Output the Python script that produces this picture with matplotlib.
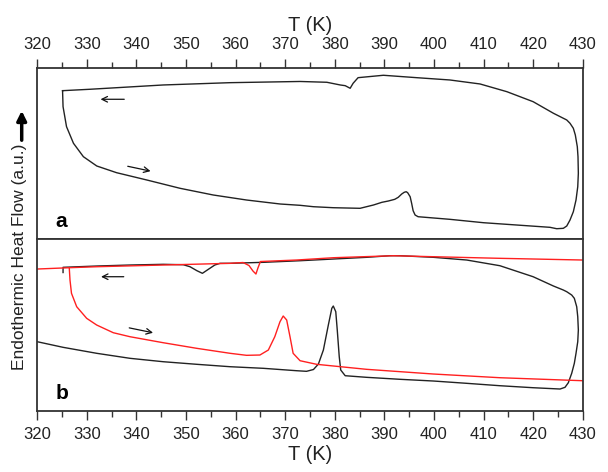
import matplotlib.pyplot as plt
import matplotlib as mpl
from matplotlib.ticker import MultipleLocator

mpl.rcParams['font.family'] = ['Liberation Sans', 'DejaVu Sans']

# panel a: one loop (heating bottom, cooling top)
T_a = [325.1, 325.2, 325.9, 327.3, 329.3, 332.0, 336.0, 342.1, 348.8, 355.5, 362.2, 369.0,
       373.0, 375.7, 379.7, 385.1, 386.4, 387.8, 389.5, 390.8, 392.1, 392.8, 393.5, 394.0,
       394.4, 394.7, 395.2, 395.5, 395.8, 396.2, 396.8, 403.2, 410.0, 416.7, 423.4, 424.76,
       426.09, 426.78, 427.44, 428.11, 428.65, 429.0, 429.12, 429.05, 428.91, 428.51, 428.11,
       427.44, 426.78, 424.1, 420.0, 414.7, 409.3, 403.2, 396.5,
       389.8, 384.7, 383.7, 383.1, 382.1, 381.1, 378.4, 373.0, 358.9, 345.4, 330.6, 325.1]
H_a = [14.83, 13.23, 11.23, 9.57, 8.23, 7.3, 6.63, 5.9, 5.07, 4.4, 3.9, 3.5,
       3.37, 3.23, 3.13, 3.07, 3.23, 3.4, 3.67, 3.8, 3.97, 4.17, 4.5, 4.67,
       4.73, 4.63, 4.23, 3.57, 2.83, 2.4, 2.23, 1.97, 1.63, 1.4, 1.17, 1.03,
       1.07, 1.3, 1.9, 2.73, 3.9, 5.23, 6.57, 8.23, 9.23, 10.4, 11.07,
       11.57, 11.9, 12.57, 13.73, 14.73, 15.5, 15.9, 16.13,
       16.37, 16.13, 15.57, 15.07, 15.33, 15.4, 15.67, 15.75, 15.63, 15.4, 14.97, 14.83]

# panel b, black run
T_b1 = [320.0, 325.2, 332.0, 338.7, 345.4, 352.2, 358.9, 365.6, 372.3, 374.3, 375.7, 376.7,
        377.7, 378.7, 379.4, 379.7, 380.2, 380.5, 380.9, 381.2, 382.1, 386.4, 393.2, 399.9,
        406.6, 413.3, 420.0, 425.43, 426.43, 427.1, 427.78, 428.31, 428.65, 429.0, 429.12,
        429.0, 428.79, 428.31, 427.78, 426.78, 426.09, 424.1,
        420.0, 413.3, 406.6, 399.9, 393.2, 391.1, 386.4, 379.7, 373.0, 365.6, 358.9, 356.85,
        355.8, 354.5, 353.3, 352.2, 350.8, 349.45, 345.4, 338.7, 332.0, 325.2, 325.2]
H_b1 = [6.93, 6.37, 5.77, 5.27, 4.93, 4.67, 4.43, 4.27, 4.03, 3.97, 4.15, 4.7,
        6.1, 8.6, 10.27, 10.5, 9.93, 8.1, 5.43, 4.1, 3.53, 3.37, 3.17, 3.0,
        2.77, 2.53, 2.33, 2.2, 2.37, 2.83, 3.77, 4.77, 5.77, 6.93, 8.1,
        9.43, 10.43, 11.27, 11.6, 11.93, 12.1, 12.5,
        13.43, 14.53, 15.1, 15.37, 15.53, 15.53, 15.37, 15.2, 15.03, 14.87, 14.77, 14.77,
        14.6, 14.17, 13.77, 14.03, 14.43, 14.63, 14.67, 14.6, 14.5, 14.37, 13.85]

# panel b, red run
T_b2 = [430.0, 413.3, 399.9, 391.8, 379.7, 372.3, 365.0, 364.5, 364.1, 363.5, 362.7, 361.5,
        358.9, 345.4, 332.0, 326.45, 326.6, 326.9, 327.95, 329.96, 331.98, 335.33, 338.7,
        345.4, 352.15, 358.9, 362.2, 364.9, 366.6, 367.9, 368.95, 369.6, 370.3, 370.97,
        371.6, 373.0, 376.35, 386.4, 399.9, 413.3, 430.0]
H_b2 = [15.1, 15.27, 15.43, 15.53, 15.33, 15.1, 14.95, 14.3, 13.7, 14.0, 14.55, 14.85,
        14.77, 14.6, 14.43, 14.33, 13.1, 11.77, 10.43, 9.27, 8.6, 7.83, 7.43,
        6.83, 6.27, 5.77, 5.57, 5.6, 6.1, 7.43, 8.93, 9.5, 9.1, 7.43,
        5.77, 5.03, 4.67, 4.17, 3.7, 3.33, 3.03]
T_b2_tail = [326.45, 320.0]
H_b2_tail = [14.33, 14.2]

ticks = [320, 330, 340, 350, 360, 370, 380, 390, 400, 410, 420, 430]

fig = plt.figure(figsize=(6.08, 4.72), dpi=100)
ax1 = fig.add_axes([0.0613, 0.4936, 0.8971, 0.3624])
ax2 = fig.add_axes([0.0613, 0.1292, 0.8971, 0.3644])

frame = '#333333'
for ax in (ax1, ax2):
    ax.set_xlim(320, 430)
    ax.set_xticks(ticks)
    ax.xaxis.set_minor_locator(MultipleLocator(5))
    ax.set_yticks([])
    for s in ax.spines.values():
        s.set_color(frame)
        s.set_linewidth(1.3)
    ax.tick_params(axis='x', which='major', length=6.5, width=1, color=frame,
                   labelsize=12, pad=5, labelcolor='#222222')
    ax.tick_params(axis='x', which='minor', length=4.3, width=1, color=frame)

ax1.set_ylim(0, 17.1)
ax2.set_ylim(0, 17.2)

ax1.xaxis.tick_top()
ax1.xaxis.set_label_position('top')
ax1.set_xlabel('T (K)', fontsize=14.5, labelpad=4, color='#222222')
ax2.set_xlabel('T (K)', fontsize=14.5, labelpad=2, color='#222222')

ax1.plot(T_a, H_a, color='#222222', lw=1.0)
ax2.plot(T_b1, H_b1, color='#222222', lw=1.0)
ax2.plot(T_b2, H_b2, color='#ff2020', lw=1.0)
ax2.plot(T_b2_tail, H_b2_tail, color='#ff2020', lw=1.0)

# heating / cooling direction arrows
arr = dict(arrowstyle='->', lw=0.9, color='#111111', mutation_scale=10)
ax1.annotate('', xy=(332.2, 13.97), xytext=(338.1, 13.97), arrowprops=arr)
ax1.annotate('', xy=(343.4, 6.73), xytext=(337.7, 7.33), arrowprops=arr)
ax2.annotate('', xy=(332.3, 13.43), xytext=(338.0, 13.43), arrowprops=arr)
ax2.annotate('', xy=(343.9, 7.77), xytext=(338.0, 8.37), arrowprops=arr)

ax1.text(0.0447, 0.10, 'a', transform=ax1.transAxes, fontsize=15, fontweight='bold',
         ha='center', va='center')
ax2.text(0.0447, 0.10, 'b', transform=ax2.transAxes, fontsize=15, fontweight='bold',
         ha='center', va='center')

fig.text(20 / 608, 1 - 256.5 / 472, 'Endothermic Heat Flow (a.u.)', rotation=90,
         fontsize=12.5, ha='center', va='center', color='#222222')
ax1.annotate('', xy=(21.7 / 608, 1 - 108 / 472), xytext=(21.7 / 608, 1 - 143 / 472),
             xycoords='figure fraction', textcoords='figure fraction',
             arrowprops=dict(arrowstyle='-|>', lw=2.5, color='black', mutation_scale=14))

fig.savefig('out.png', dpi=100)
